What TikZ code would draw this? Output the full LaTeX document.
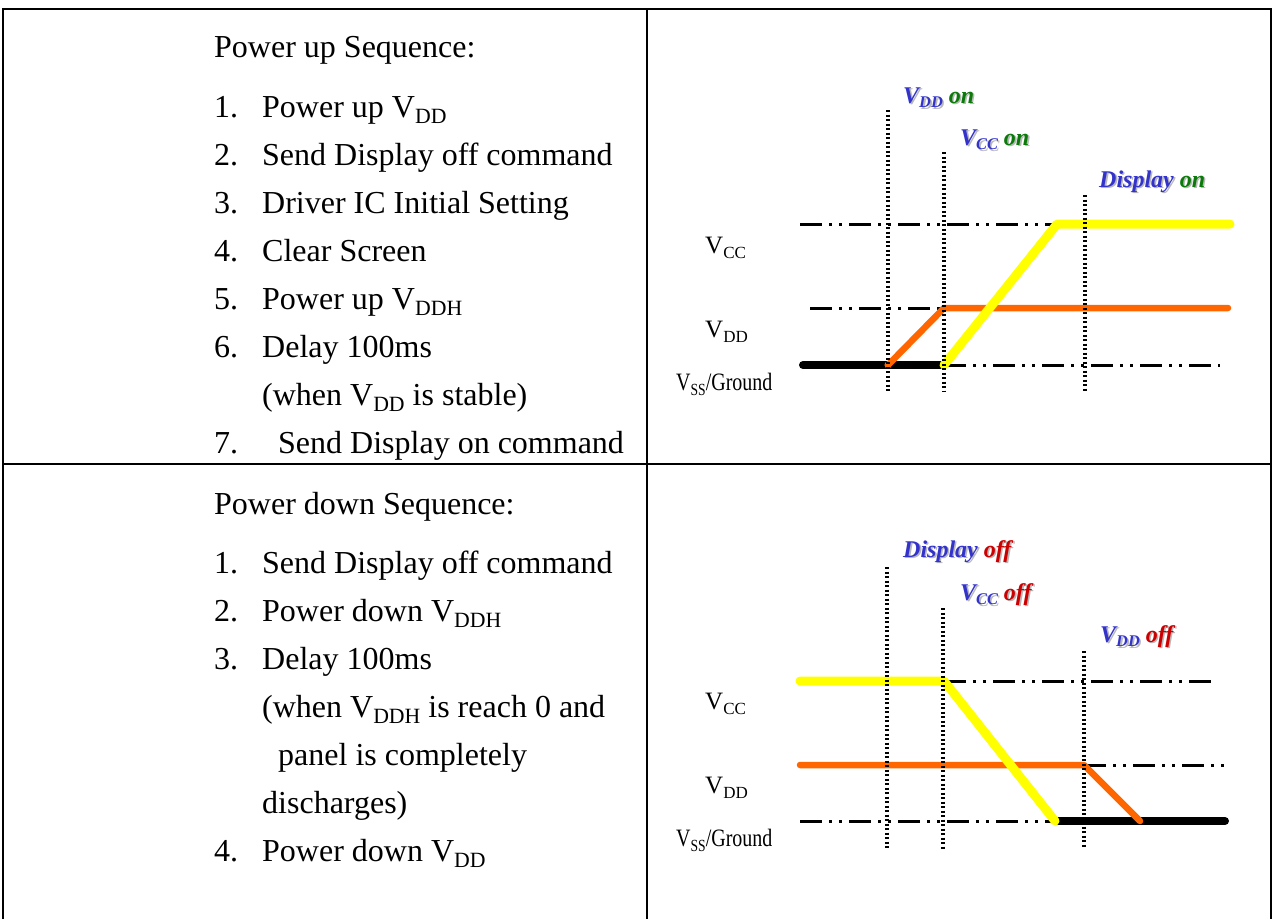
\documentclass[tikz,border=0pt]{standalone}
\usepackage{fontspec}
\setmainfont{Liberation Serif}
\definecolor{voltblue}{HTML}{3333CC}
\definecolor{ongreen}{HTML}{0B7A0B}
\definecolor{offred}{HTML}{CC0000}
\definecolor{railyellow}{HTML}{FFFF00}
\definecolor{railorange}{HTML}{FF6600}
\definecolor{shade}{HTML}{B8B8B8}
% lowered, reduced-size subscript letters
\newcommand\dn[1]{\raisebox{-0.2em}{\scalebox{0.68}{#1}}}
% bold italic event label with a soft drop shadow
\newcommand\evlabel[5]{%
  \node[evt, text=shade] at ([shift={(1.6,1.6)}]#2) {#3 #4};
  \node[evt] (#1) at (#2) {\textcolor{voltblue}{#3} \textcolor{#5}{#4}};}
\begin{document}
\begin{tikzpicture}[x=1pt,y=-1pt,
  txt/.style={anchor=base west, inner sep=0pt, font=\fontsize{32}{38}\selectfont},
  axl/.style={anchor=base west, inner sep=0pt, font=\fontsize{25}{30}\selectfont},
  evt/.style={anchor=base west, inner sep=0pt, font=\fontsize{24}{28}\selectfont\bfseries\itshape},
  frame/.style={line width=2pt, black},
  guide/.style={line width=3.2pt, dash pattern=on 2.2pt off 2.3pt, black},
  level/.style={line width=3pt, dash pattern=on 22pt off 7pt on 3pt off 7pt on 3pt off 7pt, black},
  vcc/.style={line width=9pt, railyellow, line cap=round, line join=round},
  vdd/.style={line width=6.5pt, railorange, line cap=round, line join=round},
  gnd/.style={line width=8pt, black, line cap=round}]
\useasboundingbox (0,0) rectangle (1274,919);

% ---- table frame ----
\coordinate (tl) at (3,9);  \coordinate (tr) at (1271,9);
\coordinate (bl) at (3,919); \coordinate (br) at (1271,919);
\coordinate (mt) at (647,9); \coordinate (mb) at (647,919);
\coordinate (ml) at (3,464); \coordinate (mr) at (1271,464);
\draw[frame] (bl) -- (tl) -- (tr) -- (br);
\draw[frame] (mt) -- (mb);
\draw[frame] (ml) -- (mr);

% ---- power up steps ----
\node[txt] (u0) at (214,57)  {Power up Sequence:};
\node[txt] (u1) at (214,117) {\makebox[48pt][l]{1.}Power up V\dn{DD}};
\node[txt] (u2) at (214,165) {\makebox[48pt][l]{2.}Send Display off command};
\node[txt] (u3) at (214,213) {\makebox[48pt][l]{3.}Driver IC Initial Setting};
\node[txt] (u4) at (214,261) {\makebox[48pt][l]{4.}Clear Screen};
\node[txt] (u5) at (214,309) {\makebox[48pt][l]{5.}Power up V\dn{DDH}};
\node[txt] (u6) at (214,357) {\makebox[48pt][l]{6.}Delay 100ms};
\node[txt] (u6b) at (262,405) {(when V\dn{DD} is stable)};
\node[txt] (u7) at (214,453) {\makebox[64pt][l]{7.}Send Display on command};

% ---- power down steps ----
\node[txt] (d0) at (214,514) {Power down Sequence:};
\node[txt] (d1) at (214,573) {\makebox[48pt][l]{1.}Send Display off command};
\node[txt] (d2) at (214,621) {\makebox[48pt][l]{2.}Power down V\dn{DDH}};
\node[txt] (d3) at (214,669) {\makebox[48pt][l]{3.}Delay 100ms};
\node[txt] (d3b) at (262,717) {(when V\dn{DDH} is reach 0 and};
\node[txt] (d3c) at (278,765) {panel is completely};
\node[txt] (d3d) at (262,813) {discharges)};
\node[txt] (d4) at (214,861) {\makebox[48pt][l]{4.}Power down V\dn{DD}};

% ================= power up timing =================
\node[axl] (uvcc) at (705,253) {V\dn{CC}};
\node[axl] (uvdd) at (705,337) {V\dn{DD}};
\node[axl] (uvss) at (676,390) {\scalebox{0.8}[1]{V\dn{SS}/Ground}};

\coordinate (a0) at (800,224);  \coordinate (a1) at (1057,224); \coordinate (a2) at (1230,224);
\coordinate (b0) at (810,308);  \coordinate (b1) at (944,308);  \coordinate (b2) at (1228,308);
\coordinate (c0) at (803,365);  \coordinate (c1) at (888,365);  \coordinate (c2) at (944,365);
\coordinate (c3) at (1220,365);

\draw[level] (a0) -- (a1);
\draw[level] (b0) -- (b1);
\draw[level] (c2) -- (c3);
\draw[gnd] (c0) -- (c2);
\draw[vdd] (c1) -- (b1) -- (b2);
\draw[vcc] (c2) -- (a1) -- (a2);
\draw[railorange, line width=1pt] (c1) circle (3pt);

\coordinate (g1t) at (888,110);  \coordinate (g1b) at (888,392);
\coordinate (g2t) at (944,152);  \coordinate (g2b) at (944,392);
\coordinate (g3t) at (1085,195); \coordinate (g3b) at (1085,392);
\draw[guide] (g1t) -- (g1b);
\draw[guide] (g2t) -- (g2b);
\draw[guide] (g3t) -- (g3b);

\coordinate (p1) at (903,103);
\coordinate (p2) at (960,145);
\coordinate (p3) at (1099,187);
\evlabel{vddon}{p1}{V\dn{DD}}{on}{ongreen}
\evlabel{vccon}{p2}{V\dn{CC}}{on}{ongreen}
\evlabel{dispon}{p3}{Display}{on}{ongreen}

% ================= power down timing =================
\node[axl] (dvcc) at (705,709) {V\dn{CC}};
\node[axl] (dvdd) at (705,793) {V\dn{DD}};
\node[axl] (dvss) at (676,846) {\scalebox{0.8}[1]{V\dn{SS}/Ground}};

\coordinate (e0) at (800,681);  \coordinate (e1) at (944,681);  \coordinate (e2) at (1217,681);
\coordinate (f0) at (800,765);  \coordinate (f1) at (1084,765); \coordinate (f2) at (1225,765);
\coordinate (h0) at (800,821);  \coordinate (h1) at (1055,821); \coordinate (h2) at (1140,821);
\coordinate (h3) at (1225,821);

\draw[level] (e1) -- (e2);
\draw[level] (f1) -- (f2);
\draw[level] (h0) -- (h1);
\draw[gnd] (h1) -- (h3);
\draw[vdd] (f0) -- (f1) -- (h2);
\draw[vcc] (e0) -- (e1) -- (h1);

\coordinate (k1t) at (887,567);  \coordinate (k1b) at (887,848);
\coordinate (k2t) at (943,608);  \coordinate (k2b) at (943,850);
\coordinate (k3t) at (1084,651); \coordinate (k3b) at (1084,848);
\draw[guide] (k1t) -- (k1b);
\draw[guide] (k2t) -- (k2b);
\draw[guide] (k3t) -- (k3b);

\coordinate (q1) at (903,557);
\coordinate (q2) at (960,600);
\coordinate (q3) at (1100,642);
\evlabel{dispoff}{q1}{Display}{off}{offred}
\evlabel{vccoff}{q2}{V\dn{CC}}{off}{offred}
\evlabel{vddoff}{q3}{V\dn{DD}}{off}{offred}
\end{tikzpicture}
\end{document}
